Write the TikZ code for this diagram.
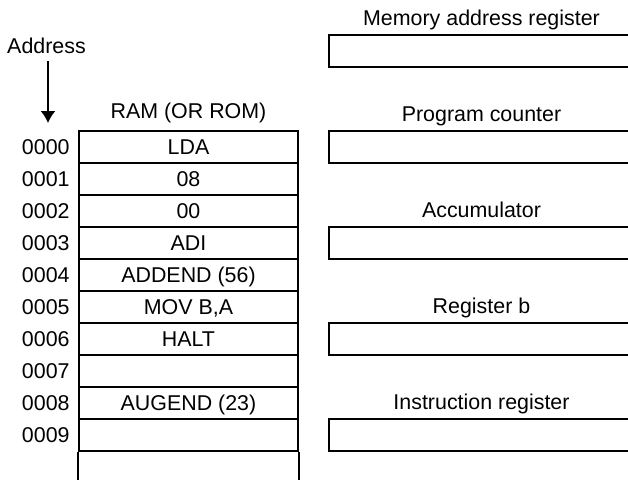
\documentclass[tikz,border=0pt]{standalone}
\usepackage{fontspec}
\setmainfont{Liberation Sans}
\usetikzlibrary{arrows.meta,positioning}

\begin{document}
\begin{tikzpicture}[x=0.5pt,y=-0.5pt,
  txt/.style={font=\fontsize{10.7}{12.8}\selectfont,inner sep=0pt},
  cell/.style={txt,draw,line width=0.85pt,minimum width=109.5pt,minimum height=16pt,text height=7.6pt,text depth=0pt},
  reg/.style={draw,line width=0.85pt,minimum width=152.5pt,minimum height=16pt,inner sep=0pt},
  arrow/.style={-{Latex[length=6pt,width=7.5pt]},line width=0.85pt}
]
\useasboundingbox (0,0) rectangle (628,479);
\clip (0,0) rectangle (628,479);
% memory
\node[txt,anchor=base] (ramlbl) at (188.5,118) {RAM (OR ROM)};
\foreach \i/\op in {0/LDA,1/08,2/00,3/ADI,4/ADDEND (56),5/{MOV B,A},6/HALT,7/,8/AUGEND (23),9/}{
  \node[cell] (ram\i) at (188.5,147+32*\i) {\op};
  \node[txt,anchor=east,text height=7.6pt,text depth=0pt] (addr\i) at (70,147+32*\i) {000\i};
}
\draw[line width=0.85pt] (ram9.south west) -- ++(0,40);
\draw[line width=0.85pt] (ram9.south east) -- ++(0,40);
% address arrow
\node[txt,anchor=base] (address) at (46.5,53) {Address};
\coordinate (arrowtail) at (48,61);
\coordinate (arrowtip) at (48,123);
\draw[arrow] (arrowtail) -- (arrowtip);
% registers
\foreach \n/\lbl/\r in {mar/Memory address register/-3,pc/Program counter/0,acc/Accumulator/3,regb/Register b/6,ir/Instruction register/9}{
  \node[reg] (\n) at (481.5,147+32*\r) {};
  \node[txt,anchor=base] (\n-lbl) at ([yshift=4.5pt]\n.north) {\lbl};
}
\end{tikzpicture}
\end{document}
